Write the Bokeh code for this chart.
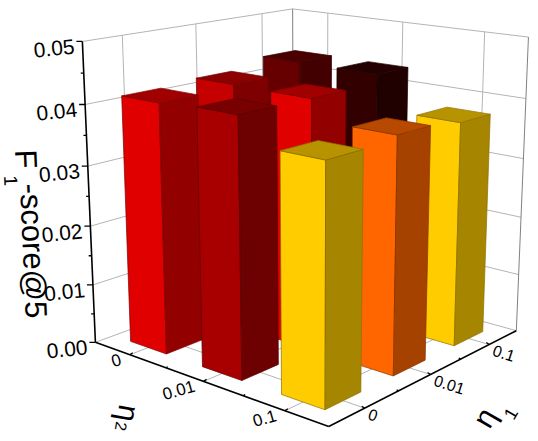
import numpy as np
from bokeh.plotting import figure
from bokeh.models import Range1d
from bokeh.core.properties import value
from bokeh.embed import file_html
from bokeh.resources import INLINE

eta1_labels = ["0", "0.01", "0.1"]
eta2_labels = ["0", "0.01", "0.1"]
z_ticks = [0.00, 0.01, 0.02, 0.03, 0.04, 0.05]
# rows: eta2 (0, 0.01, 0.1); columns: eta1 (0, 0.01, 0.1)
f1_eta2_0 = [0.0413, 0.0418, 0.0433]
f1_eta2_001 = [0.0418, 0.0417, 0.0432]
f1_eta2_01 = [0.0377, 0.0384, 0.0375]
front_colors = [["#e00000", "#c40000", "#660000"],
                ["#a80000", "#e00000", "#330000"],
                ["#ffcc00", "#ff6600", "#ffcc00"]]
values = [f1_eta2_0, f1_eta2_001, f1_eta2_01]

W, H = 530, 433

world = np.array([[0, 0, 0], [0, 1, 0], [1, 1, 0], [1, 0, 0],
                  [0, 0, 1], [1, 0, 1], [1, 1, 1]], float)
img = np.array([[95, 341], [328, 427], [516, 329], [293, 270],
                [82, 41], [292, 8], [528, 37]], float)
A = []
b = []
for (x, y, z), (px, py) in zip(world, img):
    A.append([x, y, z, 1, 0, 0, 0, 0, -px * x, -px * y, -px * z]); b.append(px)
    A.append([0, 0, 0, 0, x, y, z, 1, -py * x, -py * y, -py * z]); b.append(py)
sol = np.linalg.lstsq(np.array(A), np.array(b), rcond=None)[0]
M = np.append(sol, 1.0).reshape(3, 4)


def proj(u, v, val):
    q = M @ np.array([u, v, val / 0.05, 1.0])
    return q[0] / q[2], q[1] / q[2]


def mix(hexc, f):
    c = [int(hexc[i:i + 2], 16) for i in (1, 3, 5)]
    return "#%02x%02x%02x" % tuple(int(round(x * f)) for x in c)


p = figure(width=W, height=H, output_backend="svg", toolbar_location=None,
           x_range=Range1d(0, W), y_range=Range1d(H, 0), min_border=0,
           outline_line_color=None)
p.axis.visible = False
p.grid.visible = False


def seg(a, b, color, w=1.0):
    p.line([a[0], b[0]], [a[1], b[1]], line_color=color, line_width=w)


GRID = "#b4b4b4"
pos = [1 / 6, 1 / 2, 5 / 6]
for z in z_ticks[1:]:
    seg(proj(0, 0, z), proj(1, 0, z), GRID)
    seg(proj(1, 0, z), proj(1, 1, z), GRID)
for t in pos:
    seg(proj(t, 0, 0), proj(t, 0, 0.05), GRID)
    seg(proj(1, t, 0), proj(1, t, 0.05), GRID)
    seg(proj(t, 0, 0), proj(t, 1, 0), GRID)
    seg(proj(0, t, 0), proj(1, t, 0), GRID)
seg(proj(1, 0, 0), proj(1, 0, 0.05), "#808080")
seg(proj(1, 1, 0), proj(1, 1, 0.05), "#808080")
seg(proj(0, 0, 0), proj(1, 0, 0), GRID)
seg(proj(1, 0, 0), proj(1, 1, 0), GRID)

half = 0.085
order = sorted(((i, j) for i in range(3) for j in range(3)), key=lambda t: pos[t[1]] - pos[t[0]], reverse=True)
for i, j in order:
    h = values[i][j]
    c = front_colors[i][j]
    u0, u1 = pos[j] - half, pos[j] + half
    v0, v1 = pos[i] - half, pos[i] + half
    edge = mix(c, 0.55)
    faces = [
        ([(u0, v0, h), (u0, v1, h), (u0, v1, 0), (u0, v0, 0)], c),
        ([(u0, v1, h), (u1, v1, h), (u1, v1, 0), (u0, v1, 0)], mix(c, 0.65)),
        ([(u0, v0, h), (u1, v0, h), (u1, v1, h), (u0, v1, h)], mix(c, 0.72)),
    ]
    for pts, col in faces:
        xy = [proj(*q) for q in pts]
        p.patch([q[0] for q in xy], [q[1] for q in xy], fill_color=col,
                line_color=edge, line_width=0.7)

AX = "#000000"
seg(proj(0, 0, 0), proj(0, 0, 0.05), AX, 1.6)
seg(proj(0, 0, 0), proj(0, 1, 0), AX, 1.6)
seg(proj(0, 1, 0), proj(1, 1, 0), AX, 1.6)
for k in range(11):
    z = k * 0.005
    a = proj(0, 0, z)
    L = 6 if k % 2 == 0 else 3
    seg((a[0] - L, a[1]), a, AX, 1.3)
for t, major in [(1/6, 1), (1/3, 0), (1/2, 1), (2/3, 0), (5/6, 1)]:
    a = proj(0, t, 0)
    seg(a, (a[0] + (3 if major else 2), a[1] - (2 if major else 1)), AX, 1.3)
    a = proj(t, 1, 0)
    seg(a, (a[0] - (3 if major else 2), a[1] - (2 if major else 1)), AX, 1.3)

FONT = value("Liberation Sans")


def label(x, y, s, size, angle, align="center", baseline="middle"):
    p.text([x], [y], text=[s], text_font=FONT, text_font_size=f"{size}px",
           angle=np.deg2rad(angle), text_align=align, text_baseline=baseline, text_color="#000000")


for z in z_ticks:
    a = proj(0, 0, z)
    label(a[0] - 8, a[1] + 5, f"{z:.2f}", 21, 6, align="right")
for t, s in zip(pos, eta2_labels):
    a = proj(0, t, 0)
    label(a[0] - 9, a[1] + 4, s, 17, 16, align="right")
for t, s in zip(pos, eta1_labels):
    a = proj(t, 1, 0)
    label(a[0] + 4, a[1] + 5, s, 16, -18, align="left")

label(25, 149, "F", 31, -87.6, align="left")
label(10, 175, "1", 19, -87.6, align="left")
label(30, 183, "-score@5", 31, -87.6, align="left")
label(128, 413, "η", 30, -100)
label(121, 426, "2", 16, -100)
label(484, 417, "η", 30, 60)
label(510, 413, "1", 18, 60)

open("out.html", "w").write(file_html(p, INLINE))
